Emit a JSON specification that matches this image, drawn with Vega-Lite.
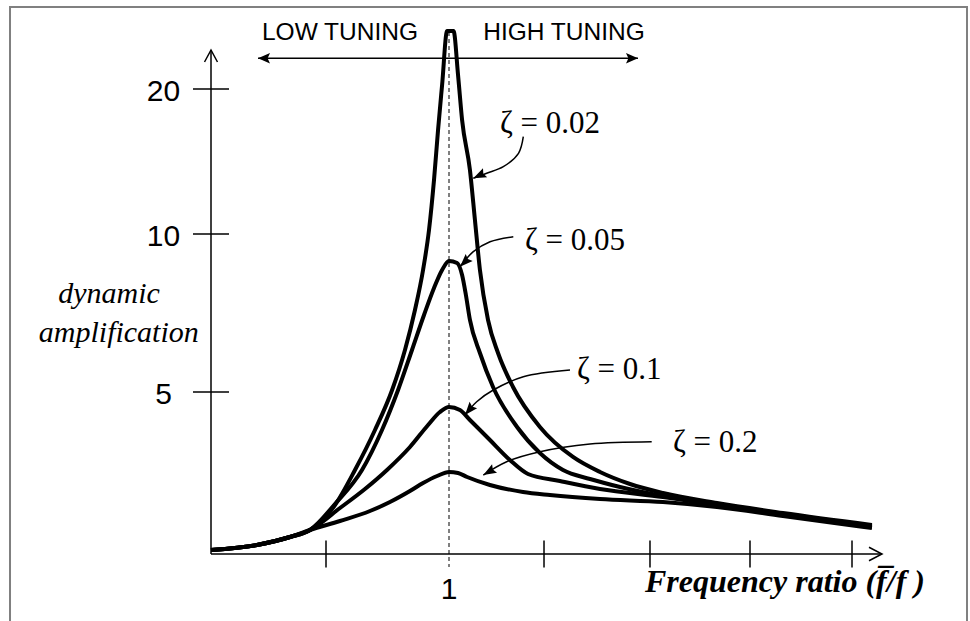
{
  "$schema": "https://vega.github.io/schema/vega-lite/v6.json",
  "width": 970,
  "height": 621,
  "padding": 0,
  "autosize": "none",
  "background": "white",
  "config": {"view": {"stroke": null}},
  "datasets": {
    "frame": [{"r": -0.8445, "r2": 3.1765, "v": 25.655, "v2": -2.3457}],
    "center": [{"r": 1, "v": 23.931, "v2": -0.401}],
    "axislines": [
      {"part": "x", "r": 0, "r2": 2.8193, "v": 0, "v2": 0},
      {"part": "y", "r": 0, "r2": 0, "v": 0, "v2": 22.69}
    ],
    "yticks": [{"r": 0, "v": 5, "t": "5"}, {"r": 0, "v": 10, "t": "10"}, {"r": 0, "v": 20, "t": "20"}],
    "xticks": [{"r": 0.4832, "v": 0}, {"r": 1.3992, "v": 0}, {"r": 1.8445, "v": 0}, {"r": 2.2647, "v": 0}, {"r": 2.6933, "v": 0}],
    "xlabels": [{"r": 1, "v": 0, "t": "1"}],
    "curves": [
      {"z": "0.02", "i": 1, "r": 0, "v": 0.124},
      {"z": "0.02", "i": 2, "r": 0.193, "v": 0.278},
      {"z": "0.02", "i": 3, "r": 0.332, "v": 0.525},
      {"z": "0.02", "i": 4, "r": 0.416, "v": 0.741},
      {"z": "0.02", "i": 5, "r": 0.521, "v": 1.512},
      {"z": "0.02", "i": 6, "r": 0.605, "v": 2.593},
      {"z": "0.02", "i": 7, "r": 0.689, "v": 3.827},
      {"z": "0.02", "i": 8, "r": 0.761, "v": 5.063},
      {"z": "0.02", "i": 9, "r": 0.815, "v": 6.329},
      {"z": "0.02", "i": 10, "r": 0.857, "v": 7.595},
      {"z": "0.02", "i": 11, "r": 0.891, "v": 8.861},
      {"z": "0.02", "i": 12, "r": 0.916, "v": 10.276},
      {"z": "0.02", "i": 13, "r": 0.937, "v": 13.724},
      {"z": "0.02", "i": 14, "r": 0.954, "v": 17.172},
      {"z": "0.02", "i": 15, "r": 0.971, "v": 20.276},
      {"z": "0.02", "i": 16, "r": 0.992, "v": 24.0},
      {"z": "0.02", "i": 17, "r": 1.019, "v": 24.0},
      {"z": "0.02", "i": 18, "r": 1.038, "v": 20.966},
      {"z": "0.02", "i": 19, "r": 1.055, "v": 17.862},
      {"z": "0.02", "i": 20, "r": 1.088, "v": 14.414},
      {"z": "0.02", "i": 21, "r": 1.109, "v": 10.966},
      {"z": "0.02", "i": 22, "r": 1.13, "v": 8.861},
      {"z": "0.02", "i": 23, "r": 1.164, "v": 7.279},
      {"z": "0.02", "i": 24, "r": 1.206, "v": 6.234},
      {"z": "0.02", "i": 25, "r": 1.269, "v": 5.158},
      {"z": "0.02", "i": 26, "r": 1.382, "v": 3.92},
      {"z": "0.02", "i": 27, "r": 1.521, "v": 2.994},
      {"z": "0.02", "i": 28, "r": 1.6345, "v": 2.531},
      {"z": "0.02", "i": 29, "r": 1.7605, "v": 2.16},
      {"z": "0.02", "i": 30, "r": 1.899, "v": 1.883},
      {"z": "0.02", "i": 31, "r": 2.126, "v": 1.574},
      {"z": "0.02", "i": 32, "r": 2.403, "v": 1.265},
      {"z": "0.02", "i": 33, "r": 2.777, "v": 0.895},
      {"z": "0.05", "i": 1, "r": 0, "v": 0.124},
      {"z": "0.05", "i": 2, "r": 0.193, "v": 0.278},
      {"z": "0.05", "i": 3, "r": 0.332, "v": 0.525},
      {"z": "0.05", "i": 4, "r": 0.416, "v": 0.741},
      {"z": "0.05", "i": 5, "r": 0.521, "v": 1.543},
      {"z": "0.05", "i": 6, "r": 0.6345, "v": 2.593},
      {"z": "0.05", "i": 7, "r": 0.7185, "v": 3.827},
      {"z": "0.05", "i": 8, "r": 0.786, "v": 5.063},
      {"z": "0.05", "i": 9, "r": 0.8445, "v": 6.329},
      {"z": "0.05", "i": 10, "r": 0.895, "v": 7.437},
      {"z": "0.05", "i": 11, "r": 0.937, "v": 8.291},
      {"z": "0.05", "i": 12, "r": 0.971, "v": 8.861},
      {"z": "0.05", "i": 13, "r": 1.0, "v": 9.146},
      {"z": "0.05", "i": 14, "r": 1.034, "v": 9.082},
      {"z": "0.05", "i": 15, "r": 1.055, "v": 8.703},
      {"z": "0.05", "i": 16, "r": 1.071, "v": 8.07},
      {"z": "0.05", "i": 17, "r": 1.088, "v": 7.279},
      {"z": "0.05", "i": 18, "r": 1.13, "v": 6.234},
      {"z": "0.05", "i": 19, "r": 1.185, "v": 5.158},
      {"z": "0.05", "i": 20, "r": 1.286, "v": 3.92},
      {"z": "0.05", "i": 21, "r": 1.382, "v": 3.117},
      {"z": "0.05", "i": 22, "r": 1.479, "v": 2.593},
      {"z": "0.05", "i": 23, "r": 1.5924, "v": 2.315},
      {"z": "0.05", "i": 24, "r": 1.7185, "v": 2.068},
      {"z": "0.05", "i": 25, "r": 1.899, "v": 1.79},
      {"z": "0.05", "i": 26, "r": 2.126, "v": 1.543},
      {"z": "0.05", "i": 27, "r": 2.403, "v": 1.235},
      {"z": "0.05", "i": 28, "r": 2.777, "v": 0.864},
      {"z": "0.1", "i": 1, "r": 0, "v": 0.124},
      {"z": "0.1", "i": 2, "r": 0.193, "v": 0.278},
      {"z": "0.1", "i": 3, "r": 0.332, "v": 0.525},
      {"z": "0.1", "i": 4, "r": 0.416, "v": 0.741},
      {"z": "0.1", "i": 5, "r": 0.542, "v": 1.42},
      {"z": "0.1", "i": 6, "r": 0.647, "v": 2.006},
      {"z": "0.1", "i": 7, "r": 0.7395, "v": 2.593},
      {"z": "0.1", "i": 8, "r": 0.836, "v": 3.302},
      {"z": "0.1", "i": 9, "r": 0.912, "v": 3.982},
      {"z": "0.1", "i": 10, "r": 0.962, "v": 4.383},
      {"z": "0.1", "i": 11, "r": 1.0, "v": 4.537},
      {"z": "0.1", "i": 12, "r": 1.046, "v": 4.444},
      {"z": "0.1", "i": 13, "r": 1.088, "v": 4.136},
      {"z": "0.1", "i": 14, "r": 1.172, "v": 3.518},
      {"z": "0.1", "i": 15, "r": 1.256, "v": 2.901},
      {"z": "0.1", "i": 16, "r": 1.332, "v": 2.469},
      {"z": "0.1", "i": 17, "r": 1.466, "v": 2.253},
      {"z": "0.1", "i": 18, "r": 1.6345, "v": 2.006},
      {"z": "0.1", "i": 19, "r": 1.899, "v": 1.759},
      {"z": "0.1", "i": 20, "r": 2.126, "v": 1.512},
      {"z": "0.1", "i": 21, "r": 2.403, "v": 1.204},
      {"z": "0.1", "i": 22, "r": 2.777, "v": 0.833},
      {"z": "0.2", "i": 1, "r": 0, "v": 0.124},
      {"z": "0.2", "i": 2, "r": 0.193, "v": 0.278},
      {"z": "0.2", "i": 3, "r": 0.332, "v": 0.525},
      {"z": "0.2", "i": 4, "r": 0.416, "v": 0.741},
      {"z": "0.2", "i": 5, "r": 0.542, "v": 1.019},
      {"z": "0.2", "i": 6, "r": 0.668, "v": 1.327},
      {"z": "0.2", "i": 7, "r": 0.752, "v": 1.605},
      {"z": "0.2", "i": 8, "r": 0.836, "v": 1.944},
      {"z": "0.2", "i": 9, "r": 0.891, "v": 2.191},
      {"z": "0.2", "i": 10, "r": 0.95, "v": 2.407},
      {"z": "0.2", "i": 11, "r": 1.0, "v": 2.531},
      {"z": "0.2", "i": 12, "r": 1.038, "v": 2.5},
      {"z": "0.2", "i": 13, "r": 1.076, "v": 2.377},
      {"z": "0.2", "i": 14, "r": 1.172, "v": 2.13},
      {"z": "0.2", "i": 15, "r": 1.311, "v": 1.914},
      {"z": "0.2", "i": 16, "r": 1.424, "v": 1.821},
      {"z": "0.2", "i": 17, "r": 1.6345, "v": 1.698},
      {"z": "0.2", "i": 18, "r": 1.899, "v": 1.605},
      {"z": "0.2", "i": 19, "r": 2.126, "v": 1.451},
      {"z": "0.2", "i": 20, "r": 2.403, "v": 1.173},
      {"z": "0.2", "i": 21, "r": 2.777, "v": 0.803}
    ],
    "callouts": [
      {"z": "0.02", "i": 1, "r": 1.3122, "v": 16.71},
      {"z": "0.02", "i": 2, "r": 1.292, "v": 15.566},
      {"z": "0.02", "i": 3, "r": 1.2282, "v": 14.641},
      {"z": "0.02", "i": 4, "r": 1.1584, "v": 14.186},
      {"z": "0.02", "i": 5, "r": 1.1021, "v": 13.841},
      {"z": "0.05", "i": 1, "r": 1.2702, "v": 9.915},
      {"z": "0.05", "i": 2, "r": 1.1723, "v": 9.756},
      {"z": "0.05", "i": 3, "r": 1.1021, "v": 9.44},
      {"z": "0.05", "i": 4, "r": 1.0462, "v": 8.965},
      {"z": "0.1", "i": 1, "r": 1.5084, "v": 5.696},
      {"z": "0.1", "i": 2, "r": 1.3122, "v": 5.484},
      {"z": "0.1", "i": 3, "r": 1.1861, "v": 5.063},
      {"z": "0.1", "i": 4, "r": 1.1164, "v": 4.701},
      {"z": "0.1", "i": 5, "r": 1.0672, "v": 4.29},
      {"z": "0.2", "i": 1, "r": 1.8517, "v": 3.466},
      {"z": "0.2", "i": 2, "r": 1.5924, "v": 3.395},
      {"z": "0.2", "i": 3, "r": 1.3824, "v": 3.157},
      {"z": "0.2", "i": 4, "r": 1.2424, "v": 2.849},
      {"z": "0.2", "i": 5, "r": 1.1441, "v": 2.438}
    ],
    "heads": [
      {"z": "0.02", "r": 1.1021, "v": 13.841},
      {"z": "0.05", "r": 1.0462, "v": 8.965},
      {"z": "0.1", "r": 1.0672, "v": 4.29},
      {"z": "0.2", "r": 1.1441, "v": 2.438}
    ],
    "tuning": [{"r": 0.1975, "r2": 1.7941, "v": 22.117}],
    "tuninglabels": [
      {"t": "LOW TUNING", "r": 0.542, "v": 23.379},
      {"t": "HIGH TUNING", "r": 1.4832, "v": 23.379}
    ],
    "ylab": [
      {"t": "dynamic", "r": -0.4286, "v": 7.8165},
      {"t": "amplification", "r": -0.3874, "v": 6.5823}
    ],
    "zlabels": [
      {"t": "ζ = 0.02", "r": 1.2143, "v": 16.966},
      {"t": "ζ = 0.05", "r": 1.3193, "v": 9.494},
      {"t": "ζ = 0.1", "r": 1.5378, "v": 5.411},
      {"t": "ζ = 0.2", "r": 1.9412, "v": 3.148}
    ],
    "xtitle": [{"t": "Frequency ratio (f̅/f )", "r": 1.8235, "v": -1.1728}]
  },
  "layer": [
    {
      "data": {"name": "frame"},
      "mark": {"type": "rect", "filled": false, "stroke": "#808080", "strokeWidth": 2},
      "encoding": {
        "x": {"field": "r", "type": "quantitative", "axis": null, "scale": {"type": "linear", "domain": [0, 1], "range": [211, 449], "zero": false, "nice": false}},
        "x2": {"field": "r2"},
        "y": {"field": "v", "type": "quantitative", "axis": null, "scale": {"type": "linear", "domain": [0, 5, 10, 20], "range": [554, 392, 234, 89], "zero": false, "nice": false}},
        "y2": {"field": "v2"}
      }
    },
    {
      "data": {"name": "center"},
      "mark": {"type": "rule", "color": "black", "strokeWidth": 1, "strokeDash": [4, 3]},
      "encoding": {
        "x": {"field": "r", "type": "quantitative", "axis": null},
        "y": {"field": "v", "type": "quantitative", "axis": null},
        "y2": {"field": "v2"}
      }
    },
    {
      "data": {"name": "axislines"},
      "mark": {"type": "rule", "color": "black", "strokeWidth": 1.5},
      "encoding": {
        "x": {"field": "r", "type": "quantitative", "axis": null},
        "x2": {"field": "r2"},
        "y": {"field": "v", "type": "quantitative", "axis": null},
        "y2": {"field": "v2"}
      }
    },
    {
      "data": {"name": "yticks"},
      "mark": {"type": "tick", "orient": "horizontal", "size": 36, "thickness": 1.5, "color": "black", "opacity": 1},
      "encoding": {
        "x": {"field": "r", "type": "quantitative", "axis": null},
        "y": {"field": "v", "type": "quantitative", "axis": null}
      }
    },
    {
      "data": {"name": "xticks"},
      "mark": {"type": "tick", "orient": "vertical", "size": 27, "thickness": 1.5, "color": "black", "opacity": 1},
      "encoding": {
        "x": {"field": "r", "type": "quantitative", "axis": null},
        "y": {"field": "v", "type": "quantitative", "axis": null}
      }
    },
    {
      "data": {"name": "curves"},
      "mark": {"type": "line", "color": "black", "strokeWidth": 4, "interpolate": "monotone"},
      "encoding": {
        "x": {"field": "r", "type": "quantitative", "axis": null},
        "y": {"field": "v", "type": "quantitative", "axis": null},
        "detail": {"field": "z"},
        "order": {"field": "i", "type": "quantitative"}
      }
    },
    {
      "data": {"name": "callouts"},
      "mark": {"type": "line", "color": "black", "strokeWidth": 1.5, "interpolate": "catmull-rom"},
      "encoding": {
        "x": {"field": "r", "type": "quantitative", "axis": null},
        "y": {"field": "v", "type": "quantitative", "axis": null},
        "detail": {"field": "z"},
        "order": {"field": "i", "type": "quantitative"}
      }
    },
    {
      "data": {"name": "heads"},
      "transform": [{"filter": "datum.z === '0.02'"}],
      "mark": {"type": "point", "shape": "M0,0L-1,-0.38L-0.85,0L-1,0.38Z", "size": 676, "angle": 155, "filled": true, "color": "black", "opacity": 1},
      "encoding": {
        "x": {"field": "r", "type": "quantitative", "axis": null},
        "y": {"field": "v", "type": "quantitative", "axis": null}
      }
    },
    {
      "data": {"name": "heads"},
      "transform": [{"filter": "datum.z === '0.05'"}],
      "mark": {"type": "point", "shape": "M0,0L-1,-0.38L-0.85,0L-1,0.38Z", "size": 676, "angle": 135, "filled": true, "color": "black", "opacity": 1},
      "encoding": {
        "x": {"field": "r", "type": "quantitative", "axis": null},
        "y": {"field": "v", "type": "quantitative", "axis": null}
      }
    },
    {
      "data": {"name": "heads"},
      "transform": [{"filter": "datum.z === '0.1'"}],
      "mark": {"type": "point", "shape": "M0,0L-1,-0.38L-0.85,0L-1,0.38Z", "size": 676, "angle": 130, "filled": true, "color": "black", "opacity": 1},
      "encoding": {
        "x": {"field": "r", "type": "quantitative", "axis": null},
        "y": {"field": "v", "type": "quantitative", "axis": null}
      }
    },
    {
      "data": {"name": "heads"},
      "transform": [{"filter": "datum.z === '0.2'"}],
      "mark": {"type": "point", "shape": "M0,0L-1,-0.38L-0.85,0L-1,0.38Z", "size": 676, "angle": 150, "filled": true, "color": "black", "opacity": 1},
      "encoding": {
        "x": {"field": "r", "type": "quantitative", "axis": null},
        "y": {"field": "v", "type": "quantitative", "axis": null}
      }
    },
    {
      "data": {"name": "tuning"},
      "mark": {"type": "rule", "color": "black", "strokeWidth": 1.5},
      "encoding": {
        "x": {"field": "r", "type": "quantitative", "axis": null},
        "x2": {"field": "r2"},
        "y": {"field": "v", "type": "quantitative", "axis": null}
      }
    },
    {
      "data": {"name": "tuning"},
      "mark": {"type": "point", "shape": "M0,0L-1,-0.44L-0.8,0L-1,0.44Z", "size": 576, "angle": 180, "filled": true, "color": "black", "opacity": 1},
      "encoding": {
        "x": {"field": "r", "type": "quantitative", "axis": null},
        "y": {"field": "v", "type": "quantitative", "axis": null}
      }
    },
    {
      "data": {"name": "tuning"},
      "mark": {"type": "point", "shape": "M0,0L-1,-0.44L-0.8,0L-1,0.44Z", "size": 576, "angle": 0, "filled": true, "color": "black", "opacity": 1},
      "encoding": {
        "x": {"field": "r2", "type": "quantitative", "axis": null},
        "y": {"field": "v", "type": "quantitative", "axis": null}
      }
    },
    {
      "data": {"name": "axislines"},
      "transform": [{"filter": "datum.part === 'y'"}],
      "mark": {"type": "point", "shape": "M-0.54,1L0,0L0.54,1", "size": 576, "filled": false, "stroke": "black", "strokeWidth": 1.5, "opacity": 1},
      "encoding": {
        "x": {"field": "r2", "type": "quantitative", "axis": null},
        "y": {"field": "v2", "type": "quantitative", "axis": null}
      }
    },
    {
      "data": {"name": "axislines"},
      "transform": [{"filter": "datum.part === 'x'"}],
      "mark": {"type": "point", "shape": "M-1,-0.52L0,0L-1,0.52", "size": 676, "filled": false, "stroke": "black", "strokeWidth": 1.5, "opacity": 1},
      "encoding": {
        "x": {"field": "r2", "type": "quantitative", "axis": null},
        "y": {"field": "v2", "type": "quantitative", "axis": null}
      }
    },
    {
      "data": {"name": "yticks"},
      "mark": {"type": "text", "font": "Liberation Sans", "fontSize": 30, "align": "center", "baseline": "alphabetic", "dx": -47.5, "dy": 11.5, "color": "black"},
      "encoding": {
        "x": {"field": "r", "type": "quantitative", "axis": null},
        "y": {"field": "v", "type": "quantitative", "axis": null},
        "text": {"field": "t"}
      }
    },
    {
      "data": {"name": "xlabels"},
      "mark": {"type": "text", "font": "Liberation Sans", "fontSize": 30, "align": "center", "baseline": "alphabetic", "dy": 44.5, "color": "black"},
      "encoding": {
        "x": {"field": "r", "type": "quantitative", "axis": null},
        "y": {"field": "v", "type": "quantitative", "axis": null},
        "text": {"field": "t"}
      }
    },
    {
      "data": {"name": "tuninglabels"},
      "mark": {"type": "text", "font": "Liberation Sans", "fontSize": 24.5, "align": "center", "baseline": "alphabetic", "color": "black"},
      "encoding": {
        "x": {"field": "r", "type": "quantitative", "axis": null},
        "y": {"field": "v", "type": "quantitative", "axis": null},
        "text": {"field": "t"}
      }
    },
    {
      "data": {"name": "ylab"},
      "mark": {"type": "text", "font": "Liberation Serif", "fontStyle": "italic", "fontSize": 30, "align": "center", "baseline": "alphabetic", "color": "black"},
      "encoding": {
        "x": {"field": "r", "type": "quantitative", "axis": null},
        "y": {"field": "v", "type": "quantitative", "axis": null},
        "text": {"field": "t"}
      }
    },
    {
      "data": {"name": "zlabels"},
      "mark": {"type": "text", "font": "Liberation Serif", "fontSize": 31, "align": "left", "baseline": "alphabetic", "color": "black"},
      "encoding": {
        "x": {"field": "r", "type": "quantitative", "axis": null},
        "y": {"field": "v", "type": "quantitative", "axis": null},
        "text": {"field": "t"}
      }
    },
    {
      "data": {"name": "xtitle"},
      "mark": {"type": "text", "font": "Liberation Serif", "fontStyle": "italic", "fontWeight": "bold", "fontSize": 32, "align": "left", "baseline": "alphabetic", "color": "black"},
      "encoding": {
        "x": {"field": "r", "type": "quantitative", "axis": null},
        "y": {"field": "v", "type": "quantitative", "axis": null},
        "text": {"field": "t"}
      }
    }
  ]
}
